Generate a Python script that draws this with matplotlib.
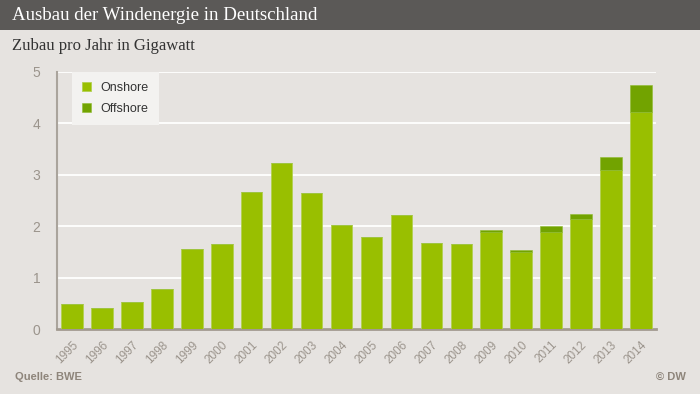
import matplotlib.pyplot as plt
from matplotlib.patches import Rectangle

# data (GW per year)
years = ["1995", "1996", "1997", "1998", "1999", "2000", "2001", "2002", "2003", "2004",
         "2005", "2006", "2007", "2008", "2009", "2010", "2011", "2012", "2013", "2014"]
onshore = [0.49, 0.42, 0.53, 0.78, 1.56, 1.66, 2.66, 3.24, 2.64, 2.03,
           1.80, 2.22, 1.67, 1.65, 1.90, 1.50, 1.90, 2.14, 3.10, 4.23]
offshore = [0, 0, 0, 0, 0, 0, 0, 0, 0, 0,
            0, 0, 0, 0, 0.03, 0.05, 0.10, 0.10, 0.25, 0.52]

bg = "#e6e3e0"
on_col = "#99bf00"
off_col = "#72a300"
grey = "#9b948c"

fig = plt.figure(figsize=(7, 3.94), dpi=100)
fig.patch.set_facecolor(bg)

# title bar
fig.patches.append(Rectangle((0, 1 - 30 / 394), 1, 30 / 394, transform=fig.transFigure,
                             facecolor="#5b5957", edgecolor="none"))
fig.text(12 / 700, 1 - 15 / 394, "Ausbau der Windenergie in Deutschland", color="white",
         family="Liberation Serif", fontsize=13.6, va="center", ha="left")
fig.text(12 / 700, 1 - 46 / 394, "Zubau pro Jahr in Gigawatt", color="#333333",
         family="Liberation Serif", fontsize=12, va="center", ha="left")

ax = fig.add_axes([57 / 700, (394 - 329.3) / 394, (656 - 57) / 700, (329.3 - 72) / 394])
ax.set_facecolor(bg)

x = list(range(len(years)))
ax.bar(x, onshore, width=0.72, color=on_col, edgecolor="#b3d051", linewidth=0.6,
       label="Onshore", zorder=3)
ax.bar(x, offshore, width=0.72, bottom=onshore, color=off_col, edgecolor="#8fbb30",
       linewidth=0.4, label="Offshore", zorder=3)

ax.set_xlim(-0.5, 19.5)
ax.set_ylim(0, 5)
ax.set_yticks([0, 1, 2, 3, 4, 5])
ax.grid(axis="y", color="white", linewidth=1.3, zorder=0)
ax.set_axisbelow(True)

for s in ["top", "right"]:
    ax.spines[s].set_visible(False)
ax.spines["left"].set_color("#aaa49c")
ax.spines["left"].set_linewidth(1.5)
ax.spines["bottom"].set_color("#a29a90")
ax.spines["bottom"].set_linewidth(2)

ax.set_xticks(x)
ax.set_xticklabels(years, rotation=45, ha="right", rotation_mode="anchor",
                   family="Liberation Sans", fontsize=8.5, color=grey)
ax.tick_params(axis="x", length=0, pad=7)
ax.tick_params(axis="y", length=0, pad=12, labelsize=10, labelcolor=grey)
for t in ax.get_yticklabels():
    t.set_family("Liberation Sans")

leg = ax.legend(loc="upper left", bbox_to_anchor=(0.025, 1.0), frameon=True,
                fancybox=False, handlelength=0.7, handleheight=0.7, borderaxespad=0,
                prop={"family": "Liberation Sans", "size": 9}, labelspacing=0.7,
                borderpad=0.8, handletextpad=0.8)
leg.get_frame().set_facecolor("#f3f2f0")
leg.get_frame().set_edgecolor("none")
leg.get_frame().set_alpha(1)
for t in leg.get_texts():
    t.set_color("#333333")

fig.text(15 / 700, 1 - 377 / 394, "Quelle: BWE", color="#8e857b", family="Liberation Sans",
         fontsize=8, fontweight="bold", va="center", ha="left")
fig.text(686 / 700, 1 - 377 / 394, "© DW", color="#8e857b", family="Liberation Sans",
         fontsize=8, fontweight="bold", va="center", ha="right")

fig.savefig("out.png", dpi=100, facecolor=bg)
